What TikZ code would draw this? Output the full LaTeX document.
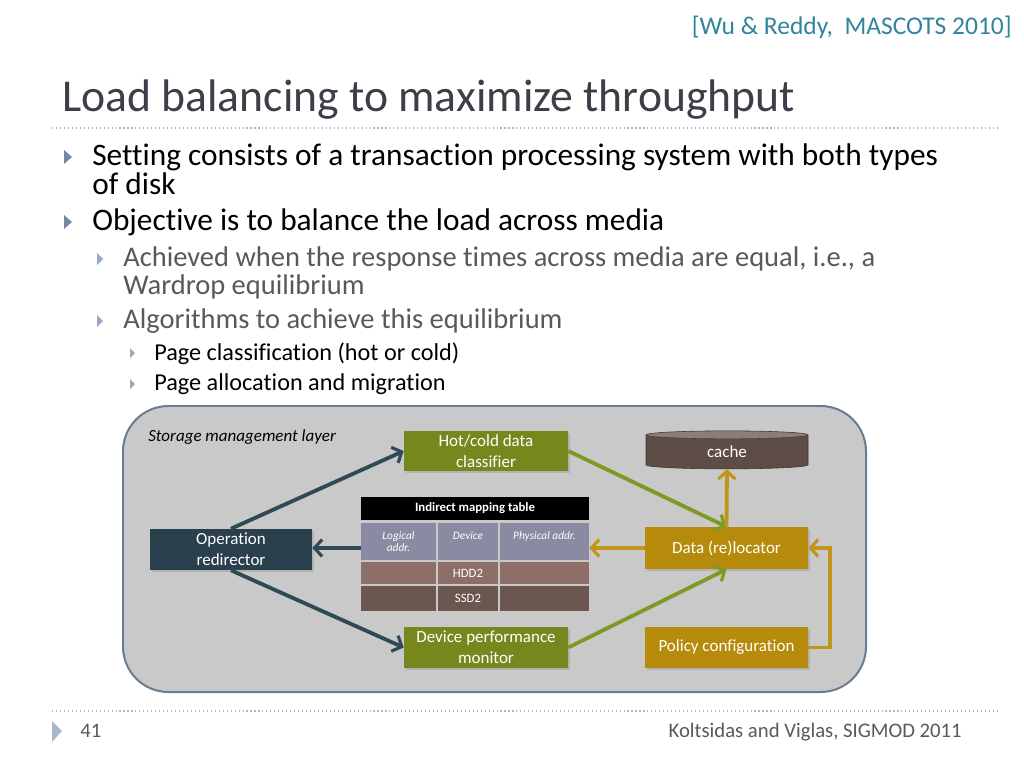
\documentclass[tikz,border=0pt]{standalone}
\usepackage{fontspec}
\setmainfont{Carlito}[Ligatures=NoCommon]
\usetikzlibrary{arrows.meta,shapes.geometric,shadows}

\newcommand{\pxl}{0.0248cm}
\definecolor{titlegrey}{HTML}{3E3E48}
\definecolor{citeteal}{HTML}{31849B}
\definecolor{subgrey}{HTML}{595959}
\definecolor{dotline}{HTML}{A8B8C8}
\definecolor{bulblue}{HTML}{7388A8}
\definecolor{bulsub}{HTML}{9AAABE}
\definecolor{panelgrey}{HTML}{C9C9C9}
\definecolor{panelline}{HTML}{687D92}
\definecolor{tealbox}{HTML}{2A404D}
\definecolor{tealarrow}{HTML}{2F4A55}
\definecolor{olivebox}{HTML}{76881D}
\definecolor{olivearrow}{HTML}{7C9A24}
\definecolor{goldbox}{HTML}{B68A0B}
\definecolor{goldarrow}{HTML}{C0961A}
\definecolor{cachebody}{HTML}{5E4C47}
\definecolor{cachetop}{HTML}{8C7C7A}
\definecolor{rowblue}{HTML}{8A8AA2}
\definecolor{rowhdd}{HTML}{8D6F67}
\definecolor{rowssd}{HTML}{6C5650}

\tikzset{
  box/.style={rectangle, fill=#1, text=white, align=center,
    font=\fontsize{12}{14.8}\selectfont, inner sep=0pt,
    drop shadow={opacity=0.3, shadow xshift=1.2pt, shadow yshift=-1.5pt}},
  cell/.style={rectangle, fill=#1, text=white, align=center, inner sep=0pt,
    font=\fontsize{9}{10}\selectfont},
  flow/.style={draw=#1, line width=2.7pt,
    -{Straight Barb[length=5.5pt,width=12pt,line width=2.2pt]}},
  bullet/.style={anchor=base west, align=left, inner sep=0pt},
}

\begin{document}
\begin{tikzpicture}[x=\pxl, y=-\pxl]
\useasboundingbox (0,0) rectangle (1024,768);
\fill[white] (0,0) rectangle (1024,768);

% heading
\node[anchor=base east, inner sep=0pt, text=citeteal, font=\fontsize{18}{20}\selectfont] (cite) at (1012,35) {[Wu \& Reddy,\ \ MASCOTS 2010]};
\node[anchor=base west, inner sep=0pt, text=titlegrey, font=\fontsize{32.2}{36}\selectfont] (title) at (62,112) {Load balancing to maximize throughput};
\draw[dotted, line width=0.8pt, dotline] (52,128) -- (1000,128);

% bullets (base = last line)
\fill[bulblue] (64,150) -- (72,157) -- (64,164) -- cycle;
\fill[bulblue] (64,215) -- (72,222) -- (64,229) -- cycle;
\fill[bulsub] (97,253) -- (103,259) -- (97,265) -- cycle;
\fill[bulsub] (97,315) -- (103,321) -- (97,327) -- cycle;
\fill[bulsub] (130,348) -- (135,353) -- (130,358) -- cycle;
\fill[bulsub] (130,379) -- (135,384) -- (130,389) -- cycle;
\node[bullet, font=\fontsize{22.1}{20.4}\selectfont] (setting) at (92,194) {Setting consists of a transaction processing system with both types\\of disk};
\node[bullet, font=\fontsize{22.1}{20.4}\selectfont] (objective) at (92,230) {Objective is to balance the load across media};
\node[bullet, text=subgrey, font=\fontsize{20.1}{19.7}\selectfont] (achieved) at (123,294) {Achieved when the response times across media are equal, i.e., a\\Wardrop equilibrium};
\node[bullet, text=subgrey, font=\fontsize{20.1}{19.7}\selectfont] (algos) at (123,328) {Algorithms to achieve this equilibrium};
\node[bullet, font=\fontsize{17.1}{18}\selectfont] (classif) at (154,360) {Page classification (hot or cold)};
\node[bullet, font=\fontsize{17.1}{18}\selectfont] (alloc) at (154,390) {Page allocation and migration};

% storage management layer
\node[rectangle, rounded corners=32pt, fill=panelgrey, draw=panelline, line width=1.4pt,
  minimum width=743*\pxl, minimum height=286*\pxl] (layer) at (494.5,549) {};
\node[anchor=base west, inner sep=0pt, font=\fontsize{12}{14}\selectfont\itshape] (layername) at (148,441) {Storage management layer};

\node[box=olivebox, minimum width=164*\pxl, minimum height=40*\pxl] (hotcold) at (486,451) {Hot/cold data\\classifier};
\node[box=tealbox, minimum width=162*\pxl, minimum height=41*\pxl] (redir) at (231,549.5) {Operation\\redirector};
\node[box=olivebox, minimum width=164*\pxl, minimum height=41*\pxl] (monitor) at (486,647.5) {Device performance\\monitor};
\node[box=goldbox, minimum width=163*\pxl, minimum height=42*\pxl] (reloc) at (726.5,548) {Data (re)locator};
\node[box=goldbox, minimum width=163*\pxl, minimum height=41*\pxl] (policy) at (726.5,647.5) {Policy configuration};
\node[cylinder, shape border rotate=90, aspect=0.2, draw=cachebody!70!black, line width=0.4pt,
  cylinder uses custom fill, cylinder body fill=cachebody, cylinder end fill=cachetop,
  text=white, font=\fontsize{12}{14}\selectfont, inner sep=0pt,
  minimum width=162*\pxl, minimum height=38*\pxl] (cache) at (727,452) {cache};

% mapping table
\node[cell=black, font=\fontsize{9}{10}\selectfont\bfseries, minimum width=228*\pxl, minimum height=23*\pxl] (thead) at (475,508.5) {Indirect mapping table};
\node[cell=rowblue, font=\fontsize{8}{9}\selectfont\itshape, minimum width=75*\pxl, minimum height=37*\pxl] (tlog) at (398.5,541.5) {Logical\\addr.};
\node[cell=rowblue, font=\fontsize{8}{9}\selectfont\itshape, minimum width=60*\pxl, minimum height=37*\pxl] (tdev) at (468,541.5) {Device\\~};
\node[cell=rowblue, font=\fontsize{8}{9}\selectfont\itshape, minimum width=89*\pxl, minimum height=37*\pxl] (tphys) at (544.5,541.5) {Physical addr.\\~};
\node[cell=rowhdd, minimum width=75*\pxl, minimum height=22*\pxl] (hddlog) at (398.5,573) {};
\node[cell=rowhdd, minimum width=60*\pxl, minimum height=22*\pxl] (hdddev) at (468,573) {HDD2};
\node[cell=rowhdd, minimum width=89*\pxl, minimum height=22*\pxl] (hddphys) at (544.5,573) {};
\node[cell=rowssd, minimum width=75*\pxl, minimum height=25*\pxl] (ssdlog) at (398.5,598.5) {};
\node[cell=rowssd, minimum width=60*\pxl, minimum height=25*\pxl] (ssddev) at (468,598.5) {SSD2};
\node[cell=rowssd, minimum width=89*\pxl, minimum height=25*\pxl] (ssdphys) at (544.5,598.5) {};

% connectors
\draw[flow=tealarrow] (redir.north) -- (hotcold.west);
\draw[flow=tealarrow] (redir.south) -- (monitor.west);
\draw[flow=tealarrow] (tlog.west |- reloc.west) -- (redir.east |- reloc.west);
\draw[flow=olivearrow] (hotcold.east) -- (reloc.north);
\draw[flow=olivearrow] (monitor.east) -- (reloc.south);
\draw[flow=goldarrow] (reloc.west) -- (tphys.east |- reloc.west);
\draw[flow=goldarrow] (reloc.north) -- (cache.south);
\draw[flow=goldarrow] (policy.east) -- ++(22,0) |- (reloc.east);

% footer
\draw[dotted, line width=0.8pt, dotline] (52,711) -- (1000,711);
\fill[dotline] (52,721) -- (62,731) -- (52,742) -- cycle;
\node[anchor=base west, inner sep=0pt, text=subgrey, font=\fontsize{14.6}{16}\selectfont] (pagenum) at (80,737) {41};
\node[anchor=base east, inner sep=0pt, text=subgrey, font=\fontsize{14.6}{16}\selectfont] (credit) at (962,737) {Koltsidas and Viglas, SIGMOD 2011};
\end{tikzpicture}
\end{document}
